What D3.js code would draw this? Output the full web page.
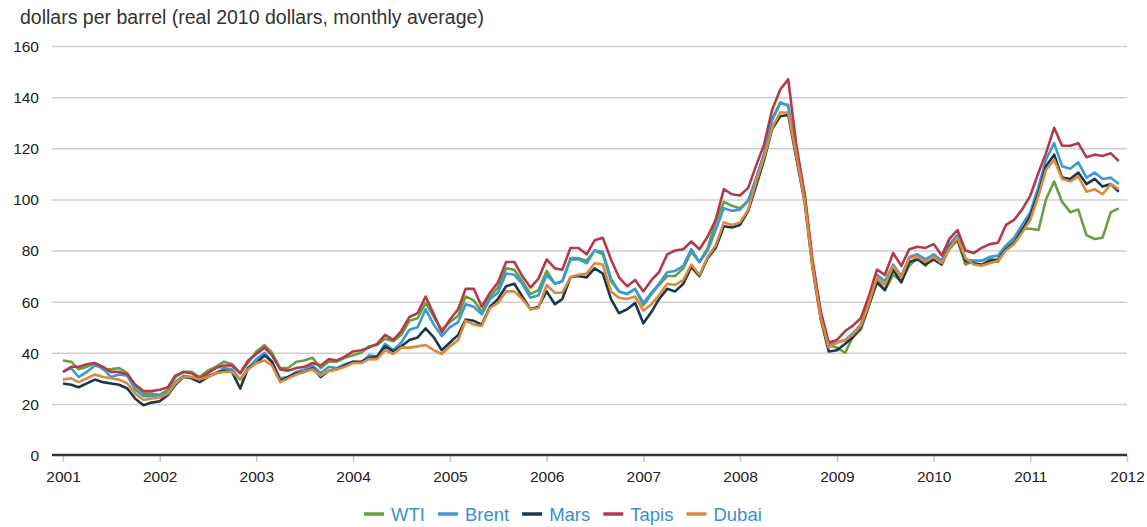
<!DOCTYPE html>
<html>
<head>
<meta charset="utf-8">
<script src="https://cdn.jsdelivr.net/npm/d3@7"></script>
<style>
  body { margin: 0; background: #fff; font-family: "Liberation Sans", Arial, sans-serif; }
  .grid line { stroke: #cfcfcf; stroke-width: 1.5; }
  .grid path { display: none; }
  .tick text { fill: #222; font-size: 15.5px; }
</style>
</head>
<body>
<div id="chart"></div>
<script>
// monthly values, Jan 2001 .. Dec 2011
var wti = [
  37, 36.5, 33.5, 34.5, 36, 33.5, 33.5, 34, 32, 27, 24, 24,
  23.5, 25.5, 30.5, 32.5, 32.5, 30.5, 33, 34.5, 36.5, 35.5, 32, 36,
  40.5, 43, 40, 34, 34, 36.5, 37, 38, 34, 36.5, 36.5, 38,
  39, 40, 42.5, 43, 45.5, 44.5, 47, 52.5, 53.5, 59.5, 54, 49,
  52, 54.5, 62, 60.5, 56, 62, 65.5, 73, 72.5, 68, 63, 64.5,
  72, 67, 68, 77, 77, 76, 80, 78.5, 68, 64, 63, 65,
  58.5, 63, 66.5, 70, 70, 73, 79.5, 75.5, 81, 91, 99, 97.5,
  96.5, 99.5, 108, 117.5, 131.5, 138, 136.5, 116, 102, 75, 55, 43,
  42, 40, 46, 49, 58, 68.5, 64.5, 70.5, 68, 74, 77, 74,
  78, 76, 80.5, 84, 74.5, 76, 76, 77, 75.5, 81, 84.5, 88.5,
  88.5, 88, 100, 107, 99, 95, 96, 86, 84.5, 85, 95, 96.5
];
var brent = [
  32.5, 34, 30.5, 32.5, 35, 34, 30.5, 31.5, 31, 25.5, 23, 23,
  23.5, 24.5, 28.5, 31, 30.5, 29, 31, 32, 34, 33.5, 29.5, 34,
  37.5, 40, 36.5, 30, 30.5, 32.5, 33.5, 35, 32, 34.5, 34, 35.5,
  36.5, 36, 39, 38.5, 43.5, 41, 44, 49, 50, 57, 51, 46.5,
  50, 52, 59, 58, 55, 61, 63.5, 71, 70.5, 67, 61.5, 62.5,
  70.5, 67, 68, 76.5, 76.5, 75, 80, 79.5, 69, 64, 63, 65,
  59.5, 63.5, 67, 71.5, 72, 74, 80.5, 75.5, 80, 88, 96.5, 95.5,
  96, 99.5, 108, 118, 131, 137.5, 137, 117, 101, 75, 55, 43.5,
  44, 45, 47.5, 51, 60, 70.5, 68, 74.5, 70, 77.5, 78.5, 76.5,
  78.5, 76, 82.5, 86, 76.5, 76, 76, 77.5, 78, 82, 85, 90,
  95, 105, 115.5, 122, 113, 112, 114.5, 108.5, 110.5, 108, 108.5, 106
];
var mars = [
  28, 27.5, 26.5, 28, 29.5, 28.5, 28, 27.5, 26, 22, 19.5, 20.5,
  21, 23.5, 27.5, 30.5, 30, 28.5, 30.5, 32, 33, 32.5, 26, 34,
  36, 39, 36.5, 29, 30.5, 32, 32.5, 34, 30.5, 33, 33.5, 35,
  36.5, 36.5, 38, 38.5, 42.5, 40.5, 42.5, 45, 46, 49.5, 46, 41,
  44, 47, 53, 52.5, 51, 58, 61, 66, 67, 62, 57, 58,
  64, 59, 61, 69.5, 70, 69.5, 73, 71, 61, 55.5, 57, 59.5,
  51.5, 56, 61, 65, 64, 67, 73.5, 70, 77, 81, 89.5, 89,
  90, 95.5, 105, 115.5, 127.5, 132.5, 133, 116, 99, 73, 53, 40.5,
  41, 43.5, 46, 50, 58.5, 67.5, 64.5, 72.5, 67.5, 75.5, 76.5, 74.5,
  76.5, 74.5, 81.5, 84.5, 76, 75, 74.5, 76, 76.5, 80.5, 83, 88,
  93.5, 102.5, 113, 117.5, 108.5, 108, 110.5, 106, 108, 105, 106, 103
];
var tapis = [
  32.5, 34.5, 34.5, 35.5, 36, 34.5, 32.5, 32.5, 31.5, 27.5, 25, 25,
  25.5, 26.5, 31, 32.5, 32, 30, 32, 34, 35, 35, 32, 37,
  39.5, 42, 39, 33.5, 33, 34, 34.5, 36, 35, 37.5, 37, 38.5,
  40.5, 41, 42, 43.5, 47, 45, 48.5, 54, 55.5, 62, 55, 48,
  53, 57, 65, 65, 58, 63.5, 67.5, 75.5, 75.5, 70, 65.5, 69,
  76.5, 73, 72.5, 81, 81, 78.5, 84, 85, 76.5, 69.5, 66, 68.5,
  64, 68.5, 71.5, 78.5, 80, 80.5, 83.5, 80.5, 85.5, 92, 104, 102,
  101.5, 104.5, 113, 121.5, 135, 143, 147, 121, 102, 76, 56, 44,
  45, 48.5, 50.5, 53.5, 62, 72.5, 70.5, 79, 74, 80.5, 81.5, 81,
  82.5, 78, 84.5, 88, 80, 79, 81, 82.5, 83, 90, 92, 96,
  101.5, 110.5, 118, 128, 121, 121, 122, 116.5, 117.5, 117, 118, 115
];
var dubai = [
  29.5, 30, 28.5, 30, 31.5, 30.5, 30, 29.5, 28, 24, 21.5, 22,
  22.5, 24, 28, 30.5, 30.5, 29.5, 30.5, 32, 32.5, 32.5, 29.5, 33.5,
  36, 37, 35, 28.5, 30, 31.5, 32.5, 33.5, 31, 33, 33.5, 34.5,
  36, 36, 37.5, 37.5, 41, 39.5, 42, 42, 42.5, 43, 41, 39.5,
  42.5, 45, 52.5, 51, 50.5, 57.5, 59.5, 64, 64, 61, 57, 57.5,
  66.5, 63.5, 63.5, 69.5, 70.5, 71, 75, 74.5, 64, 61.5, 61, 62,
  56.5, 59, 62.5, 67, 66.5, 68.5, 74.5, 70.5, 77.5, 82, 91, 90,
  91, 96, 106.5, 116.5, 128, 134, 134, 117, 99.5, 73.5, 53.5, 42,
  44, 45, 47, 50.5, 59, 69.5, 66.5, 74, 69.5, 77, 77.5, 75.5,
  77.5, 75, 81, 85, 77, 74.5, 74, 75, 76, 80, 82.5, 87,
  92, 101.5, 111.5, 115.5, 108, 107, 109, 103, 104, 102, 106, 104
];

var seriesNames = ["WTI", "Brent", "Mars", "Tapis", "Dubai"];
var seriesColors = ["#66a040", "#3a9ad8", "#1b3750", "#b33a4a", "#d98a3a"];
var seriesValues = [wti, brent, mars, tapis, dubai];
var yTicks = [0, 20, 40, 60, 80, 100, 120, 140, 160];
var yearTicks = [2001, 2002, 2003, 2004, 2005, 2006, 2007, 2008, 2009, 2010, 2011, 2012];
var yTitle = "dollars per barrel (real 2010 dollars, monthly average)";

var W = 1147, H = 527;
var margin = {top: 46, right: 20, bottom: 72, left: 63};
var width = W - margin.left - margin.right,
    height = H - margin.top - margin.bottom;

var months = d3.timeMonth.range(new Date(2001, 0, 1), new Date(2012, 0, 1));

var svg = d3.select("#chart")
  .append("svg")
    .attr("width", W)
    .attr("height", H);

var g = svg.append("g")
    .attr("transform", "translate(" + margin.left + "," + margin.top + ")");

var x = d3.scaleTime()
    .domain([new Date(2001, 0, 1), new Date(2012, 0, 1)])
    .range([0, width]);

var y = d3.scaleLinear()
    .domain([0, 160])
    .range([height, 0]);

// title
svg.append("text")
    .attr("x", 20)
    .attr("y", 24)
    .attr("fill", "#333")
    .style("font-size", "19.5px")
    .text(yTitle);

// horizontal grid + y labels
var yAxis = g.append("g")
    .attr("class", "grid")
    .attr("transform", "translate(-11,0)")
    .call(d3.axisLeft(y).tickValues(yTicks).tickSize(-(width + 11)).tickPadding(13));
yAxis.selectAll(".tick text").attr("dy", "0.35em");
yAxis.selectAll(".tick").filter(function(d) { return d === 0; }).select("line").remove();

// x axis ticks
var xAxis = g.append("g")
    .attr("transform", "translate(0," + height + ")")
    .call(d3.axisBottom(x)
      .tickValues(yearTicks.map(function(yr) { return new Date(yr, 0, 1); }))
      .tickFormat(d3.timeFormat("%Y"))
      .tickSize(7)
      .tickPadding(9));
xAxis.select(".domain").remove();
xAxis.selectAll(".tick line").attr("stroke", "#c8c8c8").attr("stroke-width", 1.5);

// baseline
g.append("line")
    .attr("x1", -11).attr("x2", width)
    .attr("y1", y(0)).attr("y2", y(0))
    .attr("stroke", "#333")
    .attr("stroke-width", 2.5);

// lines
var line = d3.line()
    .x(function(d, i) { return x(months[i]); })
    .y(function(d) { return y(d); });

seriesValues.forEach(function(vals, k) {
  g.append("path")
    .datum(vals)
    .attr("fill", "none")
    .attr("stroke", seriesColors[k])
    .attr("stroke-width", 2.6)
    .attr("stroke-linejoin", "round")
    .attr("d", line);
});

// legend
var legend = svg.append("g").attr("transform", "translate(0,514)");
var lx = 364;
seriesNames.forEach(function(name, k) {
  var item = legend.append("g").attr("transform", "translate(" + lx + ",0)");
  item.append("line")
    .attr("x1", 0).attr("x2", 20)
    .attr("y1", 0).attr("y2", 0)
    .attr("stroke", seriesColors[k])
    .attr("stroke-width", 3.5);
  var t = item.append("text")
    .attr("x", 27)
    .attr("y", 6.5)
    .attr("fill", "#3a8fd0")
    .style("font-size", "18.5px")
    .text(name);
  lx += 27 + t.node().getComputedTextLength() + 13;
});
</script>
</body>
</html>
